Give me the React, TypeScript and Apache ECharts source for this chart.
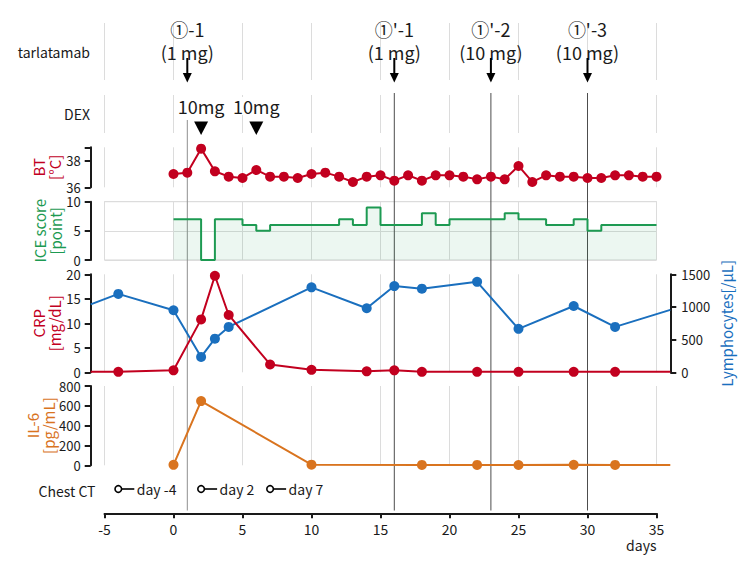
import React, { useEffect, useRef } from 'react';
import * as echarts from 'echarts';

const FONT = '"Noto Sans CJK JP", "Noto Sans", sans-serif';

// tarlatamab doses
const doseDays = [1, 16, 23, 30];
const doseNames = ['①-1', "①'-1", "①'-2", "①'-3"];
const doseAmounts = ['(1 mg)', '(1 mg)', '(10 mg)', '(10 mg)'];

// dexamethasone doses
const dexDays = [2, 6];
const dexAmounts = ['10mg', '10mg'];

// body temperature [°C], one reading per day from day 0 to day 35
const btValues = [
  37.0, 37.1, 38.9, 37.2, 36.8, 36.7, 37.3, 36.8, 36.8, 36.7, 37.0, 37.1,
  36.8, 36.4, 36.8, 36.9, 36.5, 36.9, 36.5, 36.9, 36.9, 36.8, 36.6, 36.8,
  36.6, 37.6, 36.4, 36.9, 36.8, 36.8, 36.7, 36.7, 36.9, 36.9, 36.8, 36.8,
];

// ICE score: day on which each score starts, and the score
const iceDays = [0, 2, 3, 5, 6, 7, 12, 13, 14, 15, 18, 19, 20, 24, 25, 27, 29, 30, 31, 35];
const iceScores = [7, 0, 7, 6, 5, 6, 7, 6, 9, 6, 8, 6, 7, 8, 7, 6, 7, 5, 6, 6];

// CRP [mg/dL]
const crpDays = [-6, -4, 0, 2, 3, 4, 7, 10, 14, 16, 18, 22, 25, 29, 32, 36];
const crpValues = [0.1, 0.1, 0.4, 10.8, 19.7, 11.7, 1.6, 0.5, 0.2, 0.4, 0.1, 0.1, 0.1, 0.1, 0.1, 0.1];

// lymphocytes [/μL]
const lymDays = [-6, -4, 0, 2, 3, 4, 10, 14, 16, 18, 22, 25, 29, 32, 36];
const lymValues = [1040, 1200, 950, 235, 515, 695, 1300, 980, 1320, 1280, 1385, 665, 1015, 695, 955];

// IL-6 [pg/mL]
const il6Days = [0, 2, 10, 18, 22, 25, 29, 32, 36];
const il6Values = [5, 648, 6, 4, 4, 3, 5, 4, 3];

// chest CT
const ctDays = [-4, 2, 7];
const ctLabels = ['day -4', 'day 2', 'day 7'];

// x axis: labelled range, and the wider range the data panels span
const dayMin = -5;
const dayMax = 35;
const dayStep = 5;
const spanMin = -6;
const spanMax = 36;

const RED = '#C2001F';
const BLUE = '#1A6FBE';
const ORANGE = '#D9741F';
const GREEN = '#1D9A52';
const INK = '#1a1a1a';
const GRID_GRAY = '#dcdcdc';
const TICK_FONT = 13;

const PLOT_LEFT = 104.5;
const PLOT_WIDTH = 552;
const PX_PER_DAY = PLOT_WIDTH / (dayMax - dayMin);
const DATA_LEFT = PLOT_LEFT - (dayMin - spanMin) * PX_PER_DAY;
const DATA_WIDTH = (spanMax - spanMin) * PX_PER_DAY;

// background rows: tarlatamab, DEX, BT, ICE, CRP/Lym, IL-6
const rows = [
  { top: 23, height: 57 },
  { top: 95, height: 38 },
  { top: 147.3, height: 40 },
  { top: 201.7, height: 58.3 },
  { top: 274.3, height: 98 },
  { top: 386, height: 79.3 },
];
// data panels sit on rows 2..5
const dataRows = [2, 3, 4, 5];

const points = (days: number[], vals: number[]) =>
  days.map((d, i) => ({
    value: [d, vals[i]],
    symbol: d < dayMin || d > dayMax ? 'none' : 'circle',
  }));

function buildOption(): any {
  const grids: any[] = [];
  const xAxes: any[] = [];
  const yAxes: any[] = [];

  // background grids carrying the day gridlines
  rows.forEach((r, i) => {
    const bottom = i === 5;
    grids.push({
      left: PLOT_LEFT,
      width: PLOT_WIDTH,
      top: r.top,
      height: r.height,
      show: i === 3,
      borderColor: '#d6d6d6',
      borderWidth: 1,
      backgroundColor: 'transparent',
    });
    xAxes.push({
      type: 'value',
      gridIndex: i,
      min: dayMin,
      max: dayMax,
      interval: dayStep,
      offset: bottom ? 48 : 0,
      axisLine: { show: bottom, onZero: false, lineStyle: { color: INK, width: 2 } },
      axisTick: { show: bottom, length: 5, lineStyle: { color: INK, width: 2 } },
      axisLabel: { show: bottom, fontSize: 14, color: INK, margin: 9, fontFamily: FONT },
      splitLine: { show: true, lineStyle: { color: GRID_GRAY, width: 1 } },
    });
    yAxes.push(
      i === 3
        ? {
            type: 'value',
            gridIndex: i,
            min: 0,
            max: 10,
            interval: 5,
            axisLine: { show: false },
            axisTick: { show: false },
            axisLabel: { show: false },
            splitLine: { show: true, lineStyle: { color: GRID_GRAY, width: 1 } },
          }
        : { type: 'value', gridIndex: i, min: 0, max: 1, show: false, splitLine: { show: false } }
    );
  });

  // data grids (indices 6..9)
  dataRows.forEach((ri) => {
    const gi = grids.length;
    grids.push({
      left: DATA_LEFT,
      width: DATA_WIDTH,
      top: rows[ri].top,
      height: rows[ri].height,
      show: false,
    });
    xAxes.push({ type: 'value', gridIndex: gi, min: spanMin, max: spanMax, show: false, splitLine: { show: false } });
  });

  const tickLabel = (extra: any = {}) => ({
    fontSize: TICK_FONT,
    lineHeight: 13,
    color: INK,
    margin: 10,
    fontFamily: FONT,
    formatter: (v: number) => String(v),
    ...extra,
  });

  const axisBase = (extra: any) => ({
    type: 'value',
    position: 'left',
    axisLine: { show: true, onZero: false, lineStyle: { color: INK, width: 2 } },
    axisTick: { show: true, length: 6, lineStyle: { color: INK, width: 2 } },
    axisLabel: tickLabel(),
    splitLine: { show: false },
    ...extra,
  });

  const Y_BT = yAxes.length;
  yAxes.push(
    axisBase({
      gridIndex: 6,
      min: 36,
      max: 39,
      axisTick: { show: true, length: 6, lineStyle: { color: INK, width: 2 }, customValues: [36, 38, 39] },
      axisLabel: tickLabel({ customValues: [36, 38] }),
    })
  );
  const Y_ICE = yAxes.length;
  yAxes.push(axisBase({ gridIndex: 7, min: 0, max: 10, interval: 5 }));
  const Y_CRP = yAxes.length;
  yAxes.push(axisBase({ gridIndex: 8, min: 0, max: 20, interval: 5 }));
  const Y_LYM = yAxes.length;
  yAxes.push(
    axisBase({
      gridIndex: 8,
      min: 0,
      max: 1500,
      interval: 500,
      position: 'right',
      axisLabel: tickLabel({ margin: 11 }),
    })
  );
  const Y_IL6 = yAxes.length;
  yAxes.push(axisBase({ gridIndex: 9, min: 0, max: 800, interval: 200 }));

  // overlay grid covering the whole page, y in page pixels
  const G_OVER = grids.length;
  grids.push({ left: PLOT_LEFT, width: PLOT_WIDTH, top: 0, height: 563, show: false });
  const X_OVER = xAxes.length;
  xAxes.push({ type: 'value', gridIndex: G_OVER, min: dayMin, max: dayMax, show: false, splitLine: { show: false } });
  const Y_OVER = yAxes.length;
  yAxes.push({ type: 'value', gridIndex: G_OVER, min: 0, max: 563, inverse: true, show: false, splitLine: { show: false } });

  const lineSeries = (name: string, xi: number, yi: number, data: any[], color: string) => ({
    type: 'line',
    name,
    xAxisIndex: xi,
    yAxisIndex: yi,
    data,
    symbol: 'circle',
    symbolSize: 10,
    color,
    lineStyle: { color, width: 2 },
    itemStyle: { color },
    z: 4,
  });

  const doseSeries = {
    type: 'custom',
    xAxisIndex: X_OVER,
    yAxisIndex: Y_OVER,
    z: 1,
    silent: true,
    data: doseDays.map((d, i) => [d, i]),
    renderItem: (_p: any, api: any) => {
      const day = api.value(0);
      const i = api.value(1);
      const x = api.coord([day, 0])[0];
      const underDex = dexDays.some((d) => Math.abs(d - day) < 2);
      return {
        type: 'group',
        children: [
          {
            type: 'line',
            shape: { x1: x, y1: underDex ? 120 : 93, x2: x, y2: 510.5 },
            style: { stroke: underDex ? '#8f8f8f' : '#4d4d4d', lineWidth: 1 },
          },
          {
            type: 'text',
            x,
            y: 29,
            style: { text: doseNames[i], align: 'center', verticalAlign: 'middle', fontSize: 18, fontFamily: FONT, fill: INK },
          },
          {
            type: 'text',
            x,
            y: 52,
            style: { text: doseAmounts[i], align: 'center', verticalAlign: 'middle', fontSize: 18, fontFamily: FONT, fill: INK },
          },
          {
            type: 'line',
            shape: { x1: x, y1: 58, x2: x, y2: 76 },
            style: { stroke: '#000', lineWidth: 2 },
          },
          {
            type: 'polygon',
            shape: { points: [[x - 4.5, 73], [x + 4.5, 73], [x, 82.5]] },
            style: { fill: '#000' },
          },
        ],
      };
    },
  };

  const dexSeries = {
    type: 'custom',
    xAxisIndex: X_OVER,
    yAxisIndex: Y_OVER,
    z: 3,
    silent: true,
    data: dexDays.map((d, i) => [d, i]),
    renderItem: (_p: any, api: any) => {
      const i = api.value(1);
      const x = api.coord([api.value(0), 0])[0];
      return {
        type: 'group',
        children: [
          {
            type: 'text',
            x,
            y: 106,
            style: {
              text: dexAmounts[i],
              align: 'center',
              verticalAlign: 'middle',
              fontSize: 18,
              fontFamily: FONT,
              fill: INK,
              backgroundColor: '#fff',
              padding: [0, 1, 0, 1],
            },
          },
          {
            type: 'polygon',
            shape: { points: [[x - 7, 121.5], [x + 7, 121.5], [x, 135]] },
            style: { fill: '#000' },
          },
        ],
      };
    },
  };

  const ctSeries = {
    type: 'custom',
    xAxisIndex: X_OVER,
    yAxisIndex: Y_OVER,
    z: 3,
    silent: true,
    data: ctDays.map((d, i) => [d, i]),
    renderItem: (_p: any, api: any) => {
      const i = api.value(1);
      const x = api.coord([api.value(0), 0])[0];
      const y = 489;
      return {
        type: 'group',
        children: [
          {
            type: 'line',
            shape: { x1: x + 3, y1: y, x2: x + 16, y2: y },
            style: { stroke: '#000', lineWidth: 1.6 },
          },
          {
            type: 'circle',
            shape: { cx: x, cy: y, r: 3.3 },
            style: { fill: '#fff', stroke: '#000', lineWidth: 1.6 },
          },
          {
            type: 'text',
            x: x + 18.5,
            y: y,
            style: { text: ctLabels[i], align: 'left', verticalAlign: 'middle', fontSize: 14, fontFamily: FONT, fill: INK },
          },
        ],
      };
    },
  };

  const sideText = (text: string, x: number, y: number, color: string, align = 'right', size = 14) => ({
    type: 'text',
    x,
    y,
    silent: true,
    style: { text, align, verticalAlign: 'middle', fontSize: size, fontFamily: FONT, fill: color },
  });

  const rotText = (text: string, x: number, y: number, color: string) => ({
    type: 'text',
    x,
    y,
    rotation: Math.PI / 2,
    silent: true,
    style: {
      text,
      align: 'center',
      verticalAlign: 'middle',
      fontSize: 15,
      lineHeight: 16,
      fontFamily: FONT,
      fill: color,
    },
  });

  return {
    animation: false,
    backgroundColor: '#fff',
    textStyle: { fontFamily: FONT },
    grid: grids,
    xAxis: xAxes,
    yAxis: yAxes,
    series: [
      lineSeries('BT', 6, Y_BT, btValues.map((v, d) => [d, v]), RED),
      {
        type: 'line',
        name: 'ICE',
        xAxisIndex: 7,
        yAxisIndex: Y_ICE,
        step: 'end',
        symbol: 'none',
        data: iceDays.map((d, i) => [d, iceScores[i]]),
        lineStyle: { color: GREEN, width: 2 },
        itemStyle: { color: GREEN },
        areaStyle: { color: 'rgba(29,154,82,0.12)' },
        z: 4,
      },
      lineSeries('Lymphocytes', 8, Y_LYM, points(lymDays, lymValues), BLUE),
      lineSeries('CRP', 8, Y_CRP, points(crpDays, crpValues), RED),
      lineSeries('IL-6', 9, Y_IL6, points(il6Days, il6Values), ORANGE),
      doseSeries,
      dexSeries,
      ctSeries,
    ],
    graphic: [
      sideText('tarlatamab', 90, 52, INK),
      sideText('DEX', 90, 114, INK),
      sideText('Chest CT', 95.5, 491, INK),
      sideText('days', 656.5, 545, INK),
      rotText('BT\n[°C]', 46.5, 167.3, RED),
      rotText('ICE score\n[point]', 47, 230.8, GREEN),
      rotText('CRP\n[mg/dL]', 46, 323.3, RED),
      rotText('IL-6\n[pg/mL]', 40, 425.6, ORANGE),
      rotText('Lymphocytes[/μL]', 726, 323.3, BLUE),
    ],
  };
}

export default function App() {
  const ref = useRef<HTMLDivElement>(null);
  useEffect(() => {
    if (!ref.current) return;
    const chart = echarts.init(ref.current, null, { renderer: 'svg' });
    chart.setOption(buildOption());
    return () => chart.dispose();
  }, []);
  return (
    <div
      ref={ref}
      style={{ position: 'fixed', left: 0, top: 0, width: 750, height: 563, background: '#fff' }}
    />
  );
}
